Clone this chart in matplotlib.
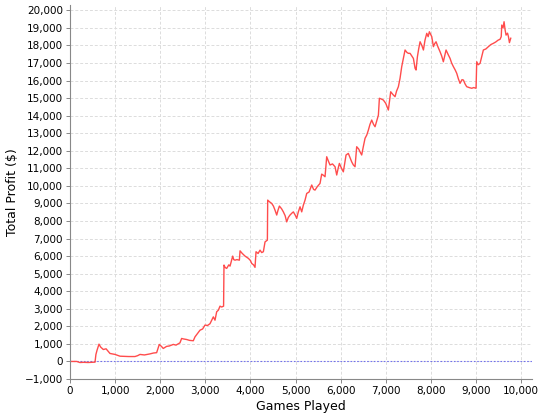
import matplotlib
matplotlib.use("Agg")
import matplotlib.pyplot as plt
from matplotlib.ticker import FuncFormatter

# cumulative profit, (games played, $)
games = [0, 150, 220, 300, 400, 555, 575, 600, 643, 680, 739, 800, 887, 998, 1109,
         1300, 1441, 1500, 1552, 1650, 1773, 1850, 1921, 1980, 2030, 2068, 2143,
         2200, 2290, 2350, 2438, 2475, 2520, 2586, 2650, 2734, 2771, 2830, 2882,
         2940, 2993, 3050, 3104, 3178, 3215, 3252, 3289, 3326, 3362, 3405, 3414,
         3440, 3474, 3520, 3548, 3607, 3630, 3659, 3700, 3755, 3770, 3820, 3881,
         3955, 4000, 4029, 4070, 4102, 4124, 4170, 4213, 4250, 4287, 4324, 4376,
         4383, 4420, 4472, 4510, 4545, 4583, 4610, 4642, 4690, 4730, 4770, 4804,
         4840, 4878, 4920, 4952, 5000, 5026, 5060, 5100, 5137, 5173, 5211, 5248,
         5300, 5359, 5400, 5432, 5480, 5543, 5580, 5620, 5654, 5691, 5730, 5765,
         5820, 5876, 5913, 5945, 5972, 6020, 6060, 6120, 6171, 6210, 6245, 6280,
         6319, 6356, 6400, 6430, 6467, 6500, 6541, 6580, 6615, 6650, 6689, 6730,
         6763, 6800, 6837, 6859, 6900, 6947, 7000, 7058, 7110, 7160, 7206, 7240,
         7280, 7317, 7354, 7376, 7428, 7470, 7502, 7539, 7613, 7650, 7672, 7702,
         7730, 7761, 7800, 7835, 7870, 7909, 7940, 7967, 8020, 8057, 8085, 8115,
         8160, 8204, 8240, 8277, 8337, 8380, 8426, 8460, 8500, 8540, 8574, 8610,
         8647, 8690, 8721, 8760, 8795, 8850, 8906, 8950, 9002, 9017, 9050, 9091,
         9130, 9164, 9220, 9275, 9330, 9386, 9440, 9490, 9534, 9560, 9572, 9600,
         9623, 9645, 9667, 9700, 9720, 9742, 9771]
profit = [0, 0, -60, -50, -60, -40, 400, 640, 985, 820, 680, 720, 455, 400, 300,
          280, 280, 330, 400, 370, 430, 480, 500, 970, 850, 740, 860,
          880, 970, 930, 1060, 1310, 1280, 1250, 1200, 1180, 1400, 1600, 1780,
          1850, 2070, 2050, 2150, 2540, 2350, 2830, 2920, 3150, 3100, 3150, 5490,
          5350, 5300, 5500, 5430, 6000, 5800, 5770, 5800, 5770, 6300, 6150, 6000,
          5870, 5750, 5580, 5500, 5360, 6250, 6150, 6340, 6200, 6250, 6810, 6910,
          9190, 9100, 9000, 8850, 8620, 8340, 8600, 8850, 8700, 8520, 8300, 7950,
          8200, 8340, 8450, 8520, 8300, 8150, 8500, 8810, 8520, 8900, 9190, 9570,
          9650, 10050, 9800, 9760, 9950, 10140, 10670, 10600, 10520, 11660, 11400, 11190,
          11250, 11090, 10620, 11000, 11280, 11000, 10800, 11760, 11850, 11600, 11370, 11200,
          11090, 12230, 12100, 11940, 11760, 12200, 12710, 12900, 13180, 13500, 13750, 13500,
          13370, 13700, 14030, 14990, 14950, 14890, 14700, 14320, 15360, 15200, 15080, 15400,
          15650, 16130, 16790, 17070, 17740, 17600, 17550, 17550, 17260, 16700, 16600, 17360,
          17800, 18210, 18000, 17740, 18300, 18690, 18500, 18780, 18500, 17930, 18100, 18210,
          17900, 17640, 17400, 17070, 17740, 17500, 17260, 17000, 16790, 16600, 16410, 16100,
          15840, 16050, 16030, 15800, 15650, 15600, 15560, 15600, 15560, 17070, 16900, 16980,
          17400, 17740, 17800, 17930, 18050, 18120, 18200, 18300, 18350, 18500, 19160, 19000,
          19350, 18900, 18590, 18700, 18500, 18160, 18410]

xticks = list(range(0, 10001, 1000))
yticks = list(range(-1000, 20001, 1000))

fig = plt.figure(figsize=(5.4, 4.2), dpi=100)
ax = fig.add_axes([0.1296, 0.0976, 0.8554, 0.8912])

ax.axhline(0, color="#5555ee", lw=0.8, ls=(0, (1.5, 1.5)), alpha=0.8, zorder=1)
ax.plot(games, profit, color="#ff4c4c", lw=1.0, zorder=2)

ax.set_xlim(0, 10240)
ax.set_ylim(-1000, 20320)
ax.set_xticks(xticks)
ax.set_yticks(yticks)
fmt = FuncFormatter(lambda v, p: f"{int(v):,}".replace("-", "\u2212"))
ax.xaxis.set_major_formatter(fmt)
ax.yaxis.set_major_formatter(fmt)

ax.grid(True, color="#dcdcdc", lw=0.7, ls=(0, (3, 2)))
ax.set_axisbelow(True)
for side in ("top", "right"):
    ax.spines[side].set_visible(False)
for side in ("left", "bottom"):
    ax.spines[side].set_color("#888888")
ax.tick_params(direction="out", length=3, width=0.7, color="#888888",
               labelsize=7.5, pad=2)

ax.set_xlabel("Games Played", fontsize=9, labelpad=3)
ax.set_ylabel("Total Profit ($)", fontsize=9, labelpad=4)

fig.savefig("out.png", dpi=100)
